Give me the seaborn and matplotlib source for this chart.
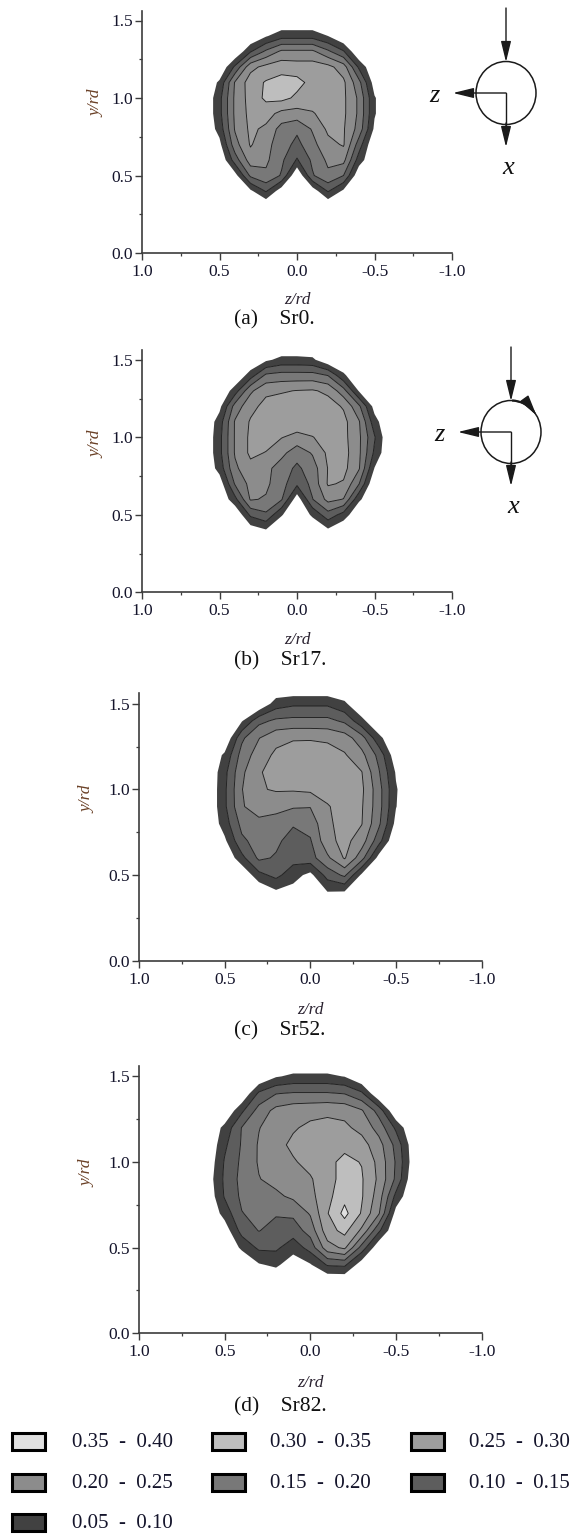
import numpy as np
import matplotlib
matplotlib.use("Agg")
import matplotlib.pyplot as plt
from matplotlib.patches import Rectangle, Ellipse, FancyArrowPatch, Arc
from matplotlib.ticker import MultipleLocator
import seaborn as sns

# ---------------- data ----------------
Z_COLS = [0.6, 0.5, 0.4, 0.3, 0.2, 0.1, 0.0, -0.1, -0.2, -0.3, -0.4, -0.5, -0.6]
Y_ROWS = [1.6, 1.5, 1.4, 1.3, 1.2, 1.1, 1.0, 0.9, 0.8, 0.7, 0.6, 0.5, 0.4, 0.3]

SR0 = [
    [0, 0, 0, 0, 0, 0, 0, 0, 0, 0, 0, 0, 0],
    [0, 0, 0, 0, 0, 0, 0, 0, 0, 0, 0, 0, 0],
    [0, 0, 0, 0, .045, .08, .08, .08, .05, 0, 0, 0, 0],
    [0, 0, 0, .095, .16, .21, .21, .21, .16, .105, 0, 0, 0],
    [0, 0, .11, .235, .265, .28, .275, .275, .265, .225, .09, 0, 0],
    [0, .06, .205, .275, .305, .32, .315, .285, .275, .26, .165, .025, 0],
    [0, .085, .21, .27, .31, .315, .29, .28, .28, .26, .19, .055, 0],
    [0, .085, .21, .265, .27, .235, .23, .245, .275, .26, .19, .055, 0],
    [0, .07, .205, .26, .24, .18, .16, .205, .26, .255, .18, .04, 0],
    [0, .035, .18, .255, .215, .175, .135, .185, .235, .255, .125, 0, 0],
    [0, 0, .125, .225, .21, .16, .095, .16, .21, .215, .075, 0, 0],
    [0, 0, .03, .16, .19, .145, 0, .145, .19, .15, .01, 0, 0],
    [0, 0, 0, .04, .105, .02, 0, .02, .105, .04, 0, 0, 0],
    [0, 0, 0, 0, 0, 0, 0, 0, 0, 0, 0, 0, 0],
]

SR17 = [
    [0, 0, 0, 0, 0, 0, 0, 0, 0, 0, 0, 0, 0],
    [0, 0, 0, 0, .04, .065, .065, .06, .01, 0, 0, 0, 0],
    [0, 0, 0, .075, .16, .17, .17, .17, .148, .06, 0, 0, 0],
    [0, 0, .075, .19, .24, .245, .252, .255, .24, .17, .045, 0, 0],
    [0, .035, .17, .235, .265, .275, .275, .275, .27, .245, .16, .03, 0],
    [0, .075, .205, .255, .275, .28, .28, .28, .28, .265, .205, .07, 0],
    [0, .085, .205, .26, .27, .252, .235, .248, .27, .265, .21, .105, 0],
    [0, .085, .205, .26, .248, .215, .17, .205, .26, .27, .21, .09, 0],
    [0, .07, .19, .235, .215, .175, .14, .175, .252, .265, .205, .048, 0],
    [0, .02, .155, .215, .21, .17, .11, .165, .255, .245, .152, 0, 0],
    [0, 0, .085, .205, .195, .155, .02, .148, .215, .198, .06, 0, 0],
    [0, 0, 0, .11, .14, .055, 0, .06, .13, .08, 0, 0, 0],
    [0, 0, 0, .02, .045, 0, 0, 0, .04, 0, 0, 0, 0],
    [0, 0, 0, 0, 0, 0, 0, 0, 0, 0, 0, 0, 0],
]

SR52 = [
    [0, 0, 0, 0, 0, 0, 0, 0, 0, 0, 0, 0, 0],
    [0, 0, 0, 0, .075, .09, .09, .09, .06, 0, 0, 0, 0],
    [0, 0, .045, .135, .16, .165, .165, .165, .14, .065, 0, 0, 0],
    [0, 0, .14, .198, .235, .245, .245, .24, .225, .17, .065, 0, 0],
    [0, .06, .17, .225, .26, .275, .28, .275, .255, .215, .135, .015, 0],
    [0, .085, .19, .245, .27, .28, .285, .285, .28, .252, .155, .045, 0],
    [0, .09, .198, .245, .255, .255, .26, .275, .28, .26, .17, .055, 0],
    [0, .09, .195, .225, .215, .205, .202, .245, .275, .255, .17, .052, 0],
    [0, .075, .165, .185, .18, .155, .17, .24, .27, .252, .16, .035, 0],
    [0, .04, .14, .17, .16, .13, .145, .235, .265, .225, .12, 0, 0],
    [0, 0, .085, .16, .145, .12, .13, .19, .255, .17, .03, 0, 0],
    [0, 0, 0, .085, .115, .07, .035, .12, .16, .04, 0, 0, 0],
    [0, 0, 0, 0, .04, .03, .02, .048, .045, 0, 0, 0, 0],
    [0, 0, 0, 0, 0, 0, 0, 0, 0, 0, 0, 0, 0],
]

SR82 = [
    [0, 0, 0, 0, 0, 0, 0, 0, 0, 0, 0, 0, 0],
    [0, 0, 0, 0, .045, .06, .06, .06, .048, 0, 0, 0, 0],
    [0, 0, 0, .11, .148, .155, .155, .155, .148, .11, 0, 0, 0],
    [0, 0, .09, .17, .215, .23, .235, .24, .235, .205, .13, 0, 0],
    [0, .065, .152, .198, .225, .245, .26, .265, .26, .235, .18, .09, 0],
    [0, .09, .155, .205, .235, .26, .27, .28, .29, .27, .22, .135, .02],
    [.01, .105, .16, .205, .225, .245, .265, .29, .31, .298, .235, .145, .025],
    [.02, .11, .165, .198, .215, .23, .245, .28, .32, .305, .24, .14, .01],
    [.01, .105, .16, .18, .19, .21, .235, .285, .335, .305, .225, .085, 0],
    [0, .07, .148, .165, .155, .16, .205, .297, .365, .295, .205, .03, 0],
    [0, .02, .12, .152, .13, .125, .17, .28, .315, .24, .11, 0, 0],
    [0, 0, .06, .11, .11, .07, .12, .23, .26, .13, .01, 0, 0],
    [0, 0, 0, .045, .06, .02, .045, .105, .11, .02, 0, 0, 0],
    [0, 0, 0, 0, 0, 0, 0, 0, 0, 0, 0, 0, 0],
]

GRIDS = [SR0, SR17, SR52, SR82]
LEVELS = [0.05, 0.10, 0.15, 0.20, 0.25, 0.30, 0.35, 0.40]
FILL_COLORS = ["#414141", "#5d5d5d", "#787878", "#8c8c8c", "#9d9d9d", "#bebebe", "#e0e0e0"]
LEGEND_LABELS = ["0.05  -  0.10", "0.10  -  0.15", "0.15  -  0.20", "0.20  -  0.25",
                 "0.25  -  0.30", "0.30  -  0.35", "0.35  -  0.40"]
X_TICKS = [1.0, 0.5, 0.0, -0.5, -1.0]
X_TICK_LABELS = ["1.0", "0.5", "0.0", "-0.5", "-1.0"]
Y_TICKS = [0.0, 0.5, 1.0, 1.5]
Y_TICK_LABELS = ["0.0", "0.5", "1.0", "1.5"]
PANEL_TAGS = ["(a)", "(b)", "(c)", "(d)"]
PANEL_CASES = ["Sr0.", "Sr17.", "Sr52.", "Sr82."]
ROTATING = [False, True]

# ---------------- style ----------------
sns.set_style("ticks")
plt.rcParams["font.family"] = ["Liberation Serif", "DejaVu Serif"]

W, H = 574, 1537
fig = plt.figure(figsize=(W / 100, H / 100), dpi=100)

# pixel layout: left, right, y=0 position
LAYOUT = [
    (142, 452, 253.0),
    (142, 452, 592.3),
    (139, 481.6, 960.7),
    (139, 481.6, 1333.3),
]
YMAX = 1.56
XLAB_OFF = [47, 48, 49, 50]
YLAB_POS = [(-0.146, 0.62), (-0.146, 0.614), (-0.15, 0.604), (-0.15, 0.60)]
CAPTION_Y = [320, 661, 1031, 1407]

z = np.array(Z_COLS)[::-1]
yv = np.array(Y_ROWS)[::-1]

TICK_COLOR = "#14142b"
SPINE_COLOR = "#3c3c3c"

axes = []
for i, (l, r, y0) in enumerate(LAYOUT):
    ppu = (r - l) / 2.0
    h = YMAX * ppu
    ax = fig.add_axes([l / W, 1 - y0 / H, (r - l) / W, h / H])
    axes.append(ax)
    g = np.array(GRIDS[i], dtype=float)[::-1, ::-1]
    ax.contourf(z, yv, g, levels=LEVELS, colors=FILL_COLORS, antialiased=True)
    ax.contour(z, yv, g, levels=LEVELS[1:-1], colors="#1c1c1c", linewidths=0.65)

    ax.set_xlim(1.0, -1.0)
    ax.set_ylim(0, YMAX)
    ax.set_xticks(X_TICKS, labels=X_TICK_LABELS)
    ax.set_yticks(Y_TICKS, labels=Y_TICK_LABELS)
    ax.xaxis.set_minor_locator(MultipleLocator(0.25))
    ax.yaxis.set_minor_locator(MultipleLocator(0.25))
    ax.tick_params(which="major", direction="out", length=5, width=1.0,
                   color=SPINE_COLOR, labelcolor=TICK_COLOR, labelsize=12.5)
    ax.tick_params(axis="x", which="major", pad=3)
    ax.tick_params(axis="y", which="major", pad=1.5)
    ax.tick_params(which="minor", direction="out", length=2.5, width=0.9, color=SPINE_COLOR)
    sns.despine(ax=ax)
    for s in ("left", "bottom"):
        ax.spines[s].set_color(SPINE_COLOR)
        ax.spines[s].set_linewidth(1.2)
    ax.set_facecolor("none")

    ax.set_xlabel("z/rd", fontstyle="italic", fontsize=12.5, color="#2a2230")
    ax.xaxis.set_label_coords(0.5, -XLAB_OFF[i] / h)
    ax.xaxis.label.set_va("center")
    ax.set_ylabel("y/rd", fontstyle="italic", fontsize=12.5, color="#6a4026")
    ax.yaxis.set_label_coords(*YLAB_POS[i])
    ax.yaxis.label.set_va("center")

    fig.text(234 / W, 1 - CAPTION_Y[i] / H, f"{PANEL_TAGS[i]}    {PANEL_CASES[i]}",
             fontsize=15.5, ha="left", va="center", color="#111111")

# ---------------- overlay in pixel coordinates ----------------
ov = fig.add_axes([0, 0, 1, 1])
ov.set_xlim(0, W)
ov.set_ylim(H, 0)
ov.axis("off")
ov.patch.set_alpha(0)

ARROW = "-|>,head_length=0.9,head_width=0.22"
COMPASS_CENTERS = [(506, 93), (511, 432)]
INK = "#1a1a1a"


def arrow(p0, p1):
    ov.add_patch(FancyArrowPatch(p0, p1, arrowstyle=ARROW, mutation_scale=14,
                                 lw=1.0, color=INK, shrinkA=0, shrinkB=0))


for i, (cx, cy) in enumerate(COMPASS_CENTERS):
    ov.add_patch(Ellipse((cx, cy), 60, 63, fill=False, lw=1.1, ec=INK))
    arrow((cx, cy - 85), (cx, cy - 31))
    arrow((cx, cy), (cx - 53, cy))
    ov.plot([cx, cx], [cy, cy + 40], color=INK, lw=1.0)
    arrow((cx, cy + 30), (cx, cy + 54))
    ov.text(cx - 72, cy + 3, "z", fontstyle="italic", fontsize=19, ha="center",
            va="center", color="#111111")
    ov.text(cx + 2, cy + 75, "x", fontstyle="italic", fontsize=19, ha="center",
            va="center", color="#111111")
    if ROTATING[i]:
        # rotation arrow running clockwise along the circle
        ov.add_patch(Arc((cx, cy), 60, 63, theta1=272, theta2=318, lw=1.6, color=INK))
        t = np.deg2rad(318)
        tip = (cx + 30 * np.cos(np.deg2rad(328)), cy + 31.5 * np.sin(np.deg2rad(328)))
        base = (cx + 30 * np.cos(t), cy + 31.5 * np.sin(t))
        arrow(base, tip)

# ---------------- legend ----------------
for k in range(7):
    idx = 6 - k
    row, col = divmod(k, 3)
    yc = 1441.5 + row * 40.5
    sx = 12 + col * 199.5
    ov.add_patch(Rectangle((sx, yc - 8.5), 33, 17, facecolor=FILL_COLORS[idx],
                           edgecolor="#000000", lw=2.2))
    ov.text(72 + col * 198.5, yc + 1, LEGEND_LABELS[idx], fontsize=15,
            ha="left", va="center", color=TICK_COLOR)

fig.savefig("out.png", dpi=100, facecolor="white")
